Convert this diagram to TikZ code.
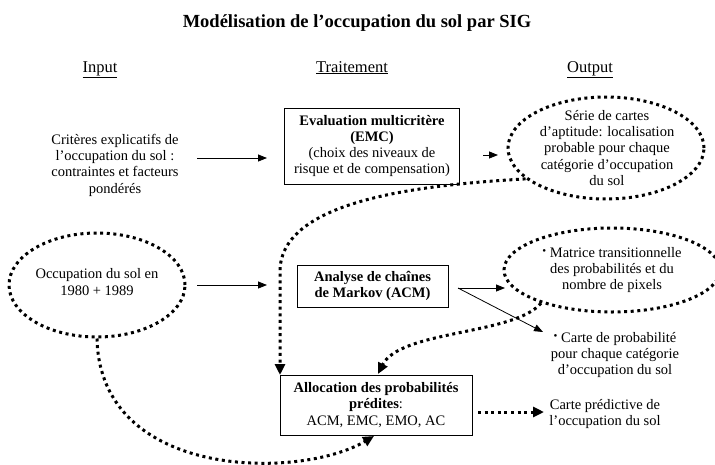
\documentclass[tikz,border=0pt]{standalone}
\usepackage{fontspec}
\setmainfont{Liberation Serif}
\usetikzlibrary{arrows.meta,shapes.geometric}
\newcommand{\mybul}{{\fontsize{11}{11}\selectfont\raisebox{2.5pt}{\textbullet}}}
\begin{document}
\begin{tikzpicture}[x=1pt,y=-1pt,
  txt/.style={align=center,inner sep=0pt,font=\fontsize{14.5}{16.3}\selectfont},
  boxn/.style={draw,line width=0.8pt,inner sep=0pt,align=center,font=\fontsize{14.5}{16.3}\selectfont},
  dotl/.style={line width=3pt,dash pattern=on 3pt off 3.6pt},
  ell/.style={ellipse,draw,dotl,inner sep=0pt},
  sarrow/.style={line width=0.8pt,-{Triangle[length=9pt,width=7pt]}},
  darrow/.style={dotl,-{Triangle[length=11pt,width=10pt]}},
  head/.style={inner sep=0pt,anchor=base,font=\fontsize{16.5}{18}\selectfont}
]
\useasboundingbox (0,0) rectangle (715,464);

\node[inner sep=0pt,font=\fontsize{18.5}{20}\selectfont\bfseries] (title) at (357,23) {Modélisation de l’occupation du sol par SIG};
\node[head] (hin) at (100,72) {\underline{Input}};
\node[head] (htr) at (352,72) {\underline{Traitement}};
\node[head] (hout) at (590,72) {\underline{Output}};

% row 1
\node[txt] (crit) at (115,165) {Critères explicatifs de\\l’occupation du sol :\\contraintes et facteurs\\pondérés};
\node[boxn,minimum width=175pt,minimum height=76pt] (emc) at (372,146) {\textbf{Evaluation multicritère}\\\textbf{(EMC)}\\(choix des niveaux de\\risque et de compensation)};
\node[ell,minimum width=196pt,minimum height=102pt] (e1) at (606,148) {};
\node[txt] (t1) at (607,148) {Série de cartes\\d’aptitude: localisation\\probable pour chaque\\catégorie d’occupation\\du sol};
\coordinate (a1s) at (197,158);
\coordinate (a1e) at (267,158);
\draw[sarrow] (a1s) -- (a1e);
\coordinate (a2s) at (483,155);
\coordinate (a2e) at (498,155);
\draw[sarrow] (a2s) -- (a2e);

% row 2
\node[ell,minimum width=176pt,minimum height=104pt] (e2) at (97,285) {};
\node[txt] (t2) at (97,282) {Occupation du sol en\\1980 + 1989};
\coordinate (a3s) at (197,285);
\coordinate (a3e) at (267,285);
\draw[sarrow] (a3s) -- (a3e);
\node[boxn,minimum width=151pt,minimum height=42pt] (acm) at (372.5,286) {\textbf{Analyse de chaînes}\\\textbf{de Markov (ACM)}};
\node[ell,minimum width=216pt,minimum height=84pt] (e3) at (612,270) {};
\node[txt] (t3) at (612,270) {\mybul{} Matrice transitionnelle\\des probabilités et du\\nombre de pixels};
\node[txt] (t4) at (615,355) {\mybul{} Carte de probabilité\\pour chaque catégorie\\d’occupation du sol};
\coordinate (fork) at (458,288);
\draw[sarrow] (fork) -- (505,288);
\draw[sarrow] (fork) -- (543,332);

% row 3
\node[boxn,minimum width=192pt,minimum height=60pt] (al) at (376,405) {\textbf{Allocation des probabilités}\\\textbf{prédites}:\\ACM, EMC, EMO, AC};
\node[txt] (t5) at (605,414) {Carte prédictive de\\l’occupation du sol};
\coordinate (d4s) at (478,412);
\coordinate (d4e) at (544,412);
\draw[darrow] (d4s) -- (d4e);

% dotted curves
\coordinate (alnw) at (280,375);
\draw[darrow] (e1.201) .. controls (420,185) and (282,200) .. (280,270) -- (alnw);
\draw[darrow] (e2.south) .. controls (100,480) and (300,480) .. (374,436);
\draw[darrow] (e3.205) .. controls (515,335) and (400,330) .. (378,374);
\end{tikzpicture}
\end{document}
